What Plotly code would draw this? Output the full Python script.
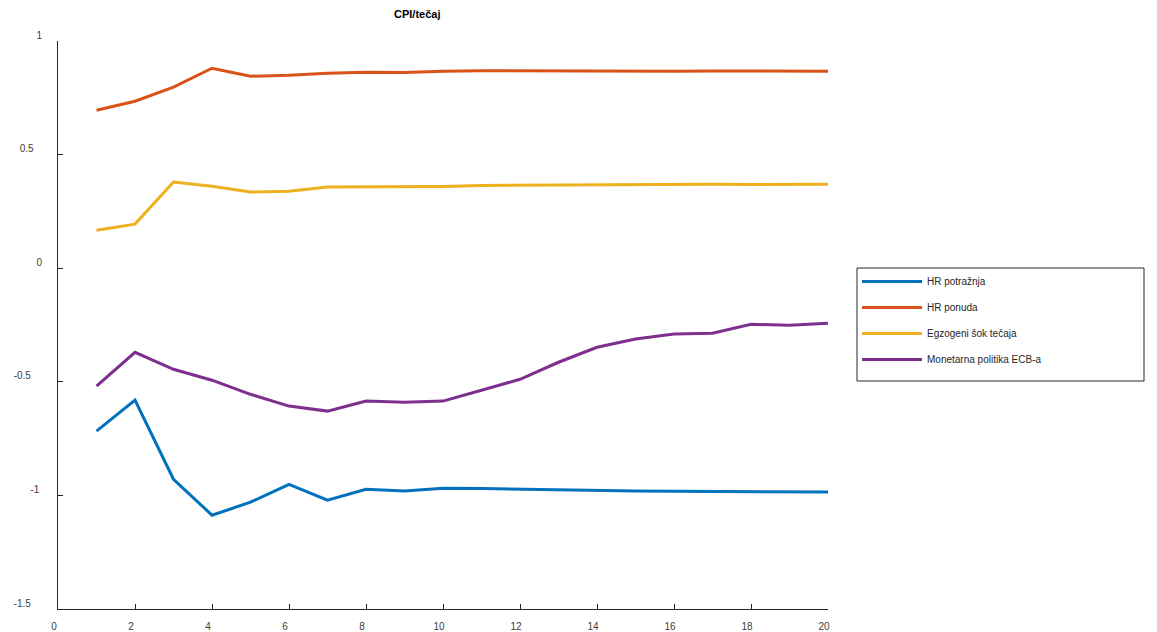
import plotly.graph_objects as go

periods = list(range(1, 21))
series_names = ["HR potražnja", "HR ponuda", "Egzogeni šok tečaja", "Monetarna politika ECB-a"]
hr_demand = [-0.717, -0.581, -0.929, -1.087, -1.030, -0.951, -1.021, -0.973, -0.981, -0.968,
             -0.970, -0.973, -0.977, -0.979, -0.981, -0.982, -0.983, -0.984, -0.985, -0.985]
hr_supply = [0.695, 0.735, 0.797, 0.880, 0.845, 0.849, 0.858, 0.863, 0.861, 0.867,
             0.869, 0.868, 0.869, 0.867, 0.868, 0.867, 0.868, 0.867, 0.867, 0.867]
fx_shock = [0.167, 0.194, 0.379, 0.361, 0.335, 0.339, 0.357, 0.357, 0.360, 0.360,
            0.364, 0.365, 0.367, 0.369, 0.368, 0.368, 0.370, 0.368, 0.368, 0.369]
ecb_policy = [-0.519, -0.370, -0.445, -0.493, -0.555, -0.607, -0.629, -0.585, -0.590, -0.585,
              -0.537, -0.489, -0.414, -0.348, -0.312, -0.290, -0.286, -0.247, -0.251, -0.242]
colors = ["#0072BD", "#D95319", "#EDB120", "#7E2F8E"]
x_ticks = [0, 2, 4, 6, 8, 10, 12, 14, 16, 18, 20]
y_ticks = [-1.5, -1, -0.5, 0, 0.5, 1]
y_tick_text = ["-1.5", "-1", "-0.5", "0", "0.5", "1"]
NB = "\u00a0"
y_tick_pad = [4, 1, 4, 0, 3, 0]  # trailing spaces, mimicking the original's label placement

fig = go.Figure()
for i, (name, vals) in enumerate(zip(series_names, [hr_demand, hr_supply, fx_shock, ecb_policy])):
    fig.add_trace(go.Scatter(x=periods, y=vals, mode="lines", name=name,
                             legendgroup=f"g{i}",
                             line=dict(color=colors[i], width=3)))

axis_col = "#262626"
# page body has an 8px default margin, so the figure is 8px smaller than the window
W, H = 1149, 624
L, R, T, B = 50, 329, 33, 23
pw, ph = W - L - R, H - T - B


def px_x(p):  # window pixel -> paper x
    return (p - 8 - L) / pw


def px_y(p):  # window pixel -> paper y
    return (H - B + 8 - p) / ph


fig.update_layout(
    width=W, height=H,
    margin=dict(l=L, r=R, t=T, b=B, autoexpand=False),
    paper_bgcolor="white", plot_bgcolor="white",
    font=dict(family="Liberation Sans, Arial, sans-serif", size=10, color="#404040"),
    showlegend=True,
    legend=dict(x=px_x(857), y=px_y(267), xanchor="left", yanchor="top",
                borderwidth=0, bgcolor="rgba(0,0,0,0)",
                font=dict(size=10, color="#262626"),
                tracegroupgap=7, itemwidth=60),
    annotations=[dict(text="<b>CPI/tečaj</b>", x=px_x(417), y=px_y(14),
                      xref="paper", yref="paper", xanchor="center", yanchor="middle",
                      showarrow=False, font=dict(size=11, color="black"))],
    shapes=[dict(type="rect", xref="paper", yref="paper",
                 x0=px_x(857), x1=px_x(1144), y0=px_y(381), y1=px_y(268),
                 line=dict(color=axis_col, width=1), fillcolor="rgba(0,0,0,0)", layer="below")],
)
fig.update_xaxes(range=[0, 20], tickvals=x_ticks, ticks="inside", ticklen=5,
                 tickcolor=axis_col, showline=True, linecolor=axis_col, linewidth=1,
                 showgrid=False, zeroline=False, ticklabelstandoff=8, ticklabelshift=-4,
                 automargin=False, tickfont=dict(size=10, color="#404040"))
fig.update_yaxes(range=[-1.5, 1], tickvals=y_ticks,
                 ticktext=[t + NB * n for t, n in zip(y_tick_text, y_tick_pad)],
                 ticks="inside",
                 ticklen=5, tickcolor=axis_col, showline=True, linecolor=axis_col,
                 linewidth=1, showgrid=False, zeroline=False, ticklabelstandoff=13,
                 ticklabelshift=-6, automargin=False, tickfont=dict(size=10, color="#404040"))

fig.write_html("out.html")
